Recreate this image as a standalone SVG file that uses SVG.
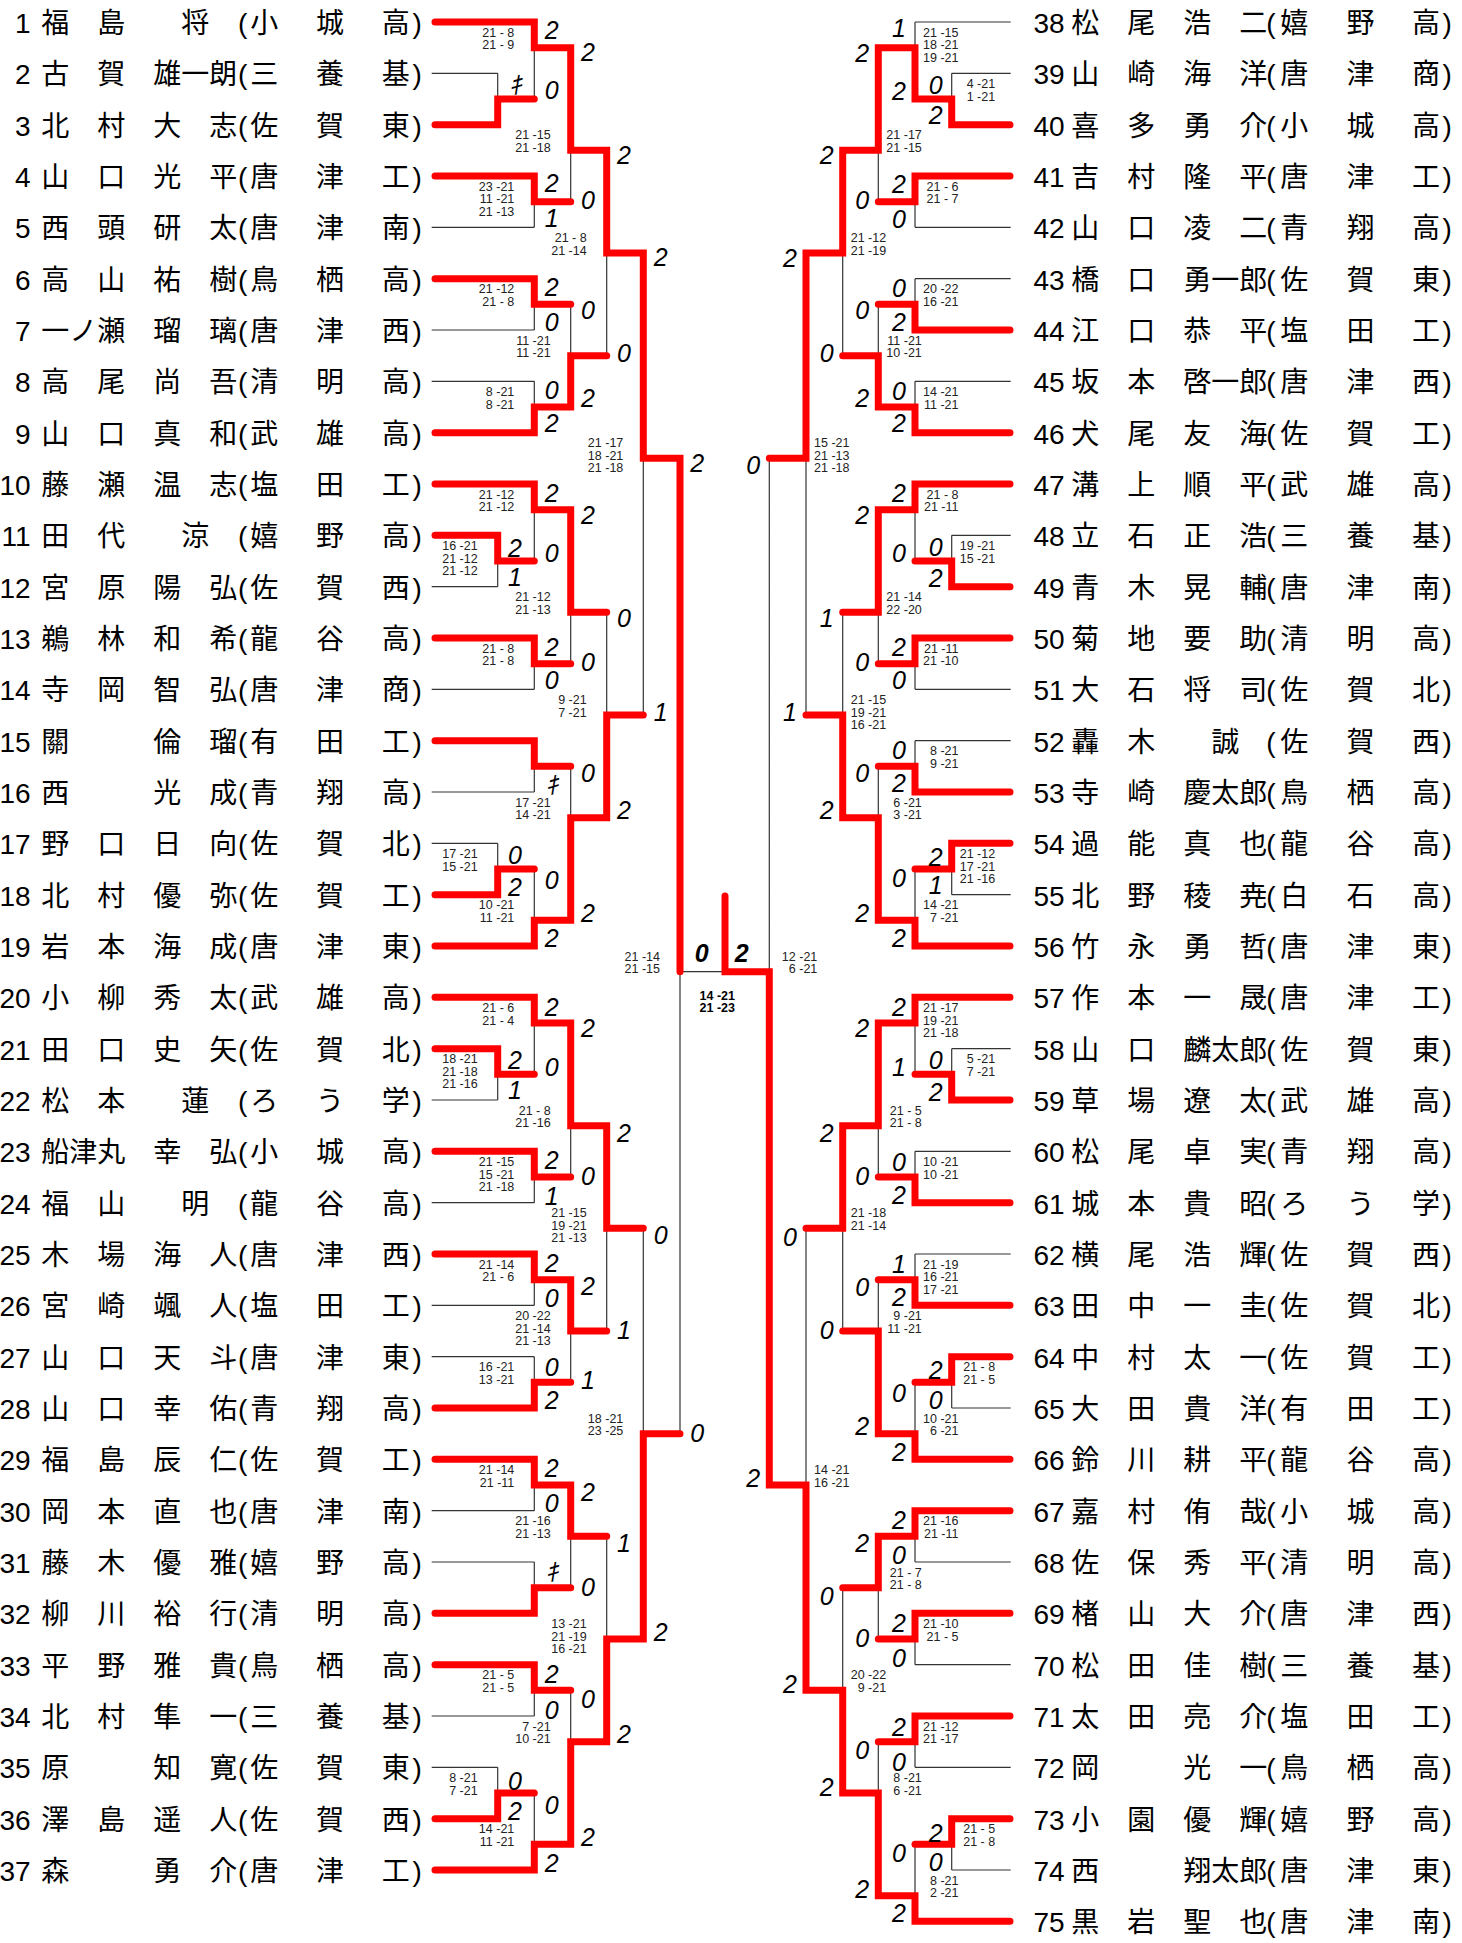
<svg xmlns="http://www.w3.org/2000/svg" width="1462" height="1943" viewBox="0 0 1462 1943">
<style>
.nm{font-family:"Noto Sans CJK JP","Noto Sans CJK SC",sans-serif;font-size:28px;fill:#000}
.no{font-family:"Liberation Sans",Arial,sans-serif;font-size:28px;text-anchor:end;fill:#000}
.pa{font-family:"Liberation Sans",Arial,sans-serif}
.s{font-family:"Liberation Sans","Noto Sans CJK JP",sans-serif;font-style:italic;font-size:25px;text-anchor:middle;fill:#000}
.f{font-weight:bold}
.g{font-family:"Liberation Sans",Arial,sans-serif;font-size:12.5px;text-anchor:end;fill:#222}
.gb{font-weight:bold;fill:#000}
.th{fill:none;stroke:#333;stroke-width:1.2}
.rd{fill:none;stroke:#ff0000;stroke-width:7;stroke-linecap:round;stroke-linejoin:miter}
</style>
<rect width="1462" height="1943" fill="#fff"/>
<g id="connectors">
<path class="th" d="M497.7 73.3V124.7M534.3 22V99M534.3 176V227.3M570.7 47.7V201.7M534.3 278.7V330M534.3 381.3V432.7M570.7 304.3V407M606.7 150.3V355.7M497.7 535.3V586.7M534.3 484V561M534.3 638V689.3M570.7 509.7V663.7M534.3 740.7V792M497.7 843.3V894.7M534.3 869V946M570.7 766.3V920.3M606.7 612.3V817.7M643.3 253V715M497.7 1048.7V1100M534.3 997.3V1074.3M534.3 1151.3V1202.7M570.7 1023V1177M534.3 1254V1305.3M534.3 1356.7V1408M570.7 1279.7V1382.3M606.7 1125.7V1331M534.3 1459.3V1510.7M534.3 1562V1613.3M570.7 1485V1587.7M534.3 1664.7V1716M497.7 1767.3V1818.7M534.3 1793V1870M570.7 1690.3V1844.3M606.7 1536.3V1639M643.3 1228.3V1639M680 458.3V1433.7"/>
<path class="th" d="M431.7 73.3H497.7M431.7 227.3H534.3M431.7 330H534.3M431.7 381.3H534.3M431.7 586.7H497.7M431.7 689.3H534.3M431.7 792H534.3M431.7 843.3H497.7M431.7 1100H497.7M431.7 1202.7H534.3M431.7 1305.3H534.3M431.7 1356.7H534.3M431.7 1510.7H534.3M431.7 1562H534.3M431.7 1716H534.3M431.7 1767.3H497.7M680 971.7H725"/>
<path class="th" d="M951.7 73.3V124.7M915 22V99M915 176V227.3M878.3 47.7V201.7M915 278.7V330M915 381.3V432.7M878.3 304.3V407M842.7 150.3V355.7M951.7 535.3V586.7M915 484V561M915 638V689.3M878.3 509.7V663.7M915 740.7V792M951.7 843.3V894.7M915 869V946M878.3 766.3V920.3M842.7 612.3V817.7M806 253V715M951.7 1048.7V1100M915 997.3V1074.3M915 1151.3V1202.7M878.3 1023V1177M915 1254V1305.3M951.7 1356.7V1408M915 1382.3V1459.3M878.3 1279.7V1433.7M842.7 1125.7V1331M915 1510.7V1562M915 1613.3V1664.7M878.3 1536.3V1639M915 1716V1767.3M951.7 1818.7V1870M915 1844.3V1921.3M878.3 1741.7V1895.7M842.7 1587.7V1793M806 1228.3V1690.3M769.3 458.3V1485"/>
<path class="th" d="M1010.7 22H915M1010.7 73.3H951.7M1010.7 227.3H915M1010.7 278.7H915M1010.7 381.3H915M1010.7 535.3H951.7M1010.7 689.3H915M1010.7 740.7H915M1010.7 894.7H951.7M1010.7 1048.7H951.7M1010.7 1151.3H915M1010.7 1254H915M1010.7 1408H951.7M1010.7 1562H915M1010.7 1664.7H915M1010.7 1767.3H915M1010.7 1870H951.7"/>
<path class="rd" d="M435 22H534.3V47.7H570.7V150.3H606.7V253H643.3V458.3H680V971.7M435 124.7H497.7V99H534.3M435 176H534.3V201.7H570.7M435 278.7H534.3V304.3H570.7M435 432.7H534.3V407H570.7V355.7H606.7M435 484H534.3V509.7H570.7V612.3H606.7M435 535.3H497.7V561H534.3M435 638H534.3V663.7H570.7M435 740.7H534.3V766.3H570.7M435 894.7H497.7V869H534.3M435 946H534.3V920.3H570.7V817.7H606.7V715H643.3M435 997.3H534.3V1023H570.7V1125.7H606.7V1228.3H643.3M435 1048.7H497.7V1074.3H534.3M435 1151.3H534.3V1177H570.7M435 1254H534.3V1279.7H570.7V1331H606.7M435 1408H534.3V1382.3H570.7M435 1459.3H534.3V1485H570.7V1536.3H606.7M435 1613.3H534.3V1587.7H570.7M435 1664.7H534.3V1690.3H570.7M435 1818.7H497.7V1793H534.3M435 1870H534.3V1844.3H570.7V1741.7H606.7V1639H643.3V1433.7H680"/>
<path class="rd" d="M1010 124.7H951.7V99H915V47.7H878.3V150.3H842.7V253H806V458.3H769.3M1010 176H915V201.7H878.3M1010 330H915V304.3H878.3M1010 432.7H915V407H878.3V355.7H842.7M1010 586.7H951.7V561H915M1010 484H915V509.7H878.3V612.3H842.7M1010 638H915V663.7H878.3M1010 792H915V766.3H878.3M1010 843.3H951.7V869H915M1010 946H915V920.3H878.3V817.7H842.7V715H806M1010 1100H951.7V1074.3H915M1010 997.3H915V1023H878.3V1125.7H842.7V1228.3H806M1010 1202.7H915V1177H878.3M1010 1305.3H915V1279.7H878.3M1010 1356.7H951.7V1382.3H915M1010 1459.3H915V1433.7H878.3V1331H842.7M1010 1510.7H915V1536.3H878.3V1587.7H842.7M1010 1613.3H915V1639H878.3M1010 1716H915V1741.7H878.3M1010 1818.7H951.7V1844.3H915M1010 1921.3H915V1895.7H878.3V1793H842.7V1690.3H806V1485H769.3V971.7H725V896"/>
</g>
<g id="scores">
<text class="s" x="515" y="94">ｷ</text>
<text class="s" x="551.6" y="39">2</text><text class="s" x="551.6" y="99">0</text>
<text class="s" x="551.6" y="192">2</text><text class="s" x="551.6" y="227">1</text>
<text class="s" x="588" y="61">2</text><text class="s" x="588" y="209">0</text>
<text class="s" x="551.6" y="295.7">2</text><text class="s" x="551.6" y="330.7">0</text>
<text class="s" x="551.6" y="399">0</text><text class="s" x="551.6" y="432">2</text>
<text class="s" x="588" y="319">0</text><text class="s" x="588" y="407.3">2</text>
<text class="s" x="624" y="164">2</text><text class="s" x="624" y="362">0</text>
<text class="s" x="515" y="557">2</text><text class="s" x="515" y="585.7">1</text>
<text class="s" x="551.6" y="501.7">2</text><text class="s" x="551.6" y="562">0</text>
<text class="s" x="551.6" y="655.7">2</text><text class="s" x="551.6" y="689">0</text>
<text class="s" x="588" y="524">2</text><text class="s" x="588" y="670.7">0</text>
<text class="s" x="551.6" y="794">ｷ</text>
<text class="s" x="515" y="864">0</text><text class="s" x="515" y="895.7">2</text>
<text class="s" x="551.6" y="889">0</text><text class="s" x="551.6" y="947.3">2</text>
<text class="s" x="588" y="782.3">0</text><text class="s" x="588" y="922.3">2</text>
<text class="s" x="624" y="627.3">0</text><text class="s" x="624" y="819">2</text>
<text class="s" x="660.6" y="265.5">2</text><text class="s" x="660.6" y="720.7">1</text>
<text class="s" x="515" y="1069">2</text><text class="s" x="515" y="1099">1</text>
<text class="s" x="551.6" y="1015.7">2</text><text class="s" x="551.6" y="1075.7">0</text>
<text class="s" x="551.6" y="1169">2</text><text class="s" x="551.6" y="1205">1</text>
<text class="s" x="588" y="1037.3">2</text><text class="s" x="588" y="1185">0</text>
<text class="s" x="551.6" y="1271.7">2</text><text class="s" x="551.6" y="1307.3">0</text>
<text class="s" x="551.6" y="1375.7">0</text><text class="s" x="551.6" y="1409">2</text>
<text class="s" x="588" y="1295">2</text><text class="s" x="588" y="1389">1</text>
<text class="s" x="624" y="1141.7">2</text><text class="s" x="624" y="1339">1</text>
<text class="s" x="551.6" y="1477.3">2</text><text class="s" x="551.6" y="1512.3">0</text>
<text class="s" x="551.6" y="1580.7">ｷ</text>
<text class="s" x="588" y="1500.7">2</text><text class="s" x="588" y="1595.7">0</text>
<text class="s" x="551.6" y="1683">2</text><text class="s" x="551.6" y="1719">0</text>
<text class="s" x="515" y="1789.7">0</text><text class="s" x="515" y="1819.7">2</text>
<text class="s" x="551.6" y="1814">0</text><text class="s" x="551.6" y="1872.3">2</text>
<text class="s" x="588" y="1708.3">0</text><text class="s" x="588" y="1845.7">2</text>
<text class="s" x="624" y="1552">1</text><text class="s" x="624" y="1743">2</text>
<text class="s" x="660.6" y="1244">0</text><text class="s" x="660.6" y="1640.7">2</text>
<text class="s" x="697.3" y="472">2</text><text class="s" x="697.3" y="1442.3">0</text>
<text class="s" x="935.7" y="94">0</text><text class="s" x="935.7" y="124">2</text>
<text class="s" x="899" y="36.5">1</text><text class="s" x="899" y="99.8">2</text>
<text class="s" x="899" y="193">2</text><text class="s" x="899" y="228">0</text>
<text class="s" x="862.3" y="62">2</text><text class="s" x="862.3" y="209">0</text>
<text class="s" x="899" y="297">0</text><text class="s" x="899" y="331">2</text>
<text class="s" x="899" y="399.7">0</text><text class="s" x="899" y="432.3">2</text>
<text class="s" x="862.3" y="319">0</text><text class="s" x="862.3" y="407.3">2</text>
<text class="s" x="826.7" y="164">2</text><text class="s" x="826.7" y="362.3">0</text>
<text class="s" x="935.7" y="556.3">0</text><text class="s" x="935.7" y="587.3">2</text>
<text class="s" x="899" y="501.7">2</text><text class="s" x="899" y="562.3">0</text>
<text class="s" x="899" y="655.7">2</text><text class="s" x="899" y="689">0</text>
<text class="s" x="862.3" y="524">2</text><text class="s" x="862.3" y="670.7">0</text>
<text class="s" x="899" y="759">0</text><text class="s" x="899" y="792.3">2</text>
<text class="s" x="935.7" y="865.7">2</text><text class="s" x="935.7" y="894">1</text>
<text class="s" x="899" y="887.3">0</text><text class="s" x="899" y="947.3">2</text>
<text class="s" x="862.3" y="782.3">0</text><text class="s" x="862.3" y="922.3">2</text>
<text class="s" x="826.7" y="627.3">1</text><text class="s" x="826.7" y="819">2</text>
<text class="s" x="790" y="266.5">2</text><text class="s" x="790" y="720.7">1</text>
<text class="s" x="935.7" y="1069">0</text><text class="s" x="935.7" y="1100.7">2</text>
<text class="s" x="899" y="1015.7">2</text><text class="s" x="899" y="1075.7">1</text>
<text class="s" x="899" y="1170.7">0</text><text class="s" x="899" y="1204">2</text>
<text class="s" x="862.3" y="1037.3">2</text><text class="s" x="862.3" y="1185">0</text>
<text class="s" x="899" y="1273">1</text><text class="s" x="899" y="1305.7">2</text>
<text class="s" x="935.7" y="1379">2</text><text class="s" x="935.7" y="1409">0</text>
<text class="s" x="899" y="1402.3">0</text><text class="s" x="899" y="1460.7">2</text>
<text class="s" x="862.3" y="1295.7">0</text><text class="s" x="862.3" y="1435">2</text>
<text class="s" x="826.7" y="1141.7">2</text><text class="s" x="826.7" y="1339">0</text>
<text class="s" x="899" y="1529">2</text><text class="s" x="899" y="1564">0</text>
<text class="s" x="899" y="1632.3">2</text><text class="s" x="899" y="1667.3">0</text>
<text class="s" x="862.3" y="1552.3">2</text><text class="s" x="862.3" y="1647.3">0</text>
<text class="s" x="899" y="1735.7">2</text><text class="s" x="899" y="1770.7">0</text>
<text class="s" x="935.7" y="1842.3">2</text><text class="s" x="935.7" y="1870.7">0</text>
<text class="s" x="899" y="1862.3">0</text><text class="s" x="899" y="1922.3">2</text>
<text class="s" x="862.3" y="1759">0</text><text class="s" x="862.3" y="1898">2</text>
<text class="s" x="826.7" y="1605">0</text><text class="s" x="826.7" y="1795.7">2</text>
<text class="s" x="790" y="1245.7">0</text><text class="s" x="790" y="1693">2</text>
<text class="s" x="753.3" y="474">0</text><text class="s" x="753.3" y="1487.3">2</text>
<text class="s f" x="701.7" y="962.3">0</text><text class="s f" x="741.7" y="962.3">2</text>
</g>
<g id="games">
<text class="g" x="514.3" y="36.7">21 - 8<tspan x="514.3" dy="12.5">21 - 9</tspan></text>
<text class="g" x="514.3" y="190.7">23 -21<tspan x="514.3" dy="12.5">11 -21</tspan><tspan x="514.3" dy="12.5">21 -13</tspan></text>
<text class="g" x="550.7" y="139.3">21 -15<tspan x="550.7" dy="12.5">21 -18</tspan></text>
<text class="g" x="514.3" y="293.3">21 -12<tspan x="514.3" dy="12.5">21 - 8</tspan></text>
<text class="g" x="514.3" y="396">8 -21<tspan x="514.3" dy="12.5">8 -21</tspan></text>
<text class="g" x="550.7" y="344.7">11 -21<tspan x="550.7" dy="12.5">11 -21</tspan></text>
<text class="g" x="586.7" y="242">21 - 8<tspan x="586.7" dy="12.5">21 -14</tspan></text>
<text class="g" x="477.7" y="550">16 -21<tspan x="477.7" dy="12.5">21 -12</tspan><tspan x="477.7" dy="12.5">21 -12</tspan></text>
<text class="g" x="514.3" y="498.7">21 -12<tspan x="514.3" dy="12.5">21 -12</tspan></text>
<text class="g" x="514.3" y="652.7">21 - 8<tspan x="514.3" dy="12.5">21 - 8</tspan></text>
<text class="g" x="550.7" y="601.3">21 -12<tspan x="550.7" dy="12.5">21 -13</tspan></text>
<text class="g" x="477.7" y="858">17 -21<tspan x="477.7" dy="12.5">15 -21</tspan></text>
<text class="g" x="514.3" y="909.3">10 -21<tspan x="514.3" dy="12.5">11 -21</tspan></text>
<text class="g" x="550.7" y="806.7">17 -21<tspan x="550.7" dy="12.5">14 -21</tspan></text>
<text class="g" x="586.7" y="704">9 -21<tspan x="586.7" dy="12.5">7 -21</tspan></text>
<text class="g" x="623.3" y="447.3">21 -17<tspan x="623.3" dy="12.5">18 -21</tspan><tspan x="623.3" dy="12.5">21 -18</tspan></text>
<text class="g" x="477.7" y="1063.3">18 -21<tspan x="477.7" dy="12.5">21 -18</tspan><tspan x="477.7" dy="12.5">21 -16</tspan></text>
<text class="g" x="514.3" y="1012">21 - 6<tspan x="514.3" dy="12.5">21 - 4</tspan></text>
<text class="g" x="514.3" y="1166">21 -15<tspan x="514.3" dy="12.5">15 -21</tspan><tspan x="514.3" dy="12.5">21 -18</tspan></text>
<text class="g" x="550.7" y="1114.7">21 - 8<tspan x="550.7" dy="12.5">21 -16</tspan></text>
<text class="g" x="514.3" y="1268.7">21 -14<tspan x="514.3" dy="12.5">21 - 6</tspan></text>
<text class="g" x="514.3" y="1371.3">16 -21<tspan x="514.3" dy="12.5">13 -21</tspan></text>
<text class="g" x="550.7" y="1320">20 -22<tspan x="550.7" dy="12.5">21 -14</tspan><tspan x="550.7" dy="12.5">21 -13</tspan></text>
<text class="g" x="586.7" y="1217.3">21 -15<tspan x="586.7" dy="12.5">19 -21</tspan><tspan x="586.7" dy="12.5">21 -13</tspan></text>
<text class="g" x="514.3" y="1474">21 -14<tspan x="514.3" dy="12.5">21 -11</tspan></text>
<text class="g" x="550.7" y="1525.3">21 -16<tspan x="550.7" dy="12.5">21 -13</tspan></text>
<text class="g" x="514.3" y="1679.3">21 - 5<tspan x="514.3" dy="12.5">21 - 5</tspan></text>
<text class="g" x="477.7" y="1782">8 -21<tspan x="477.7" dy="12.5">7 -21</tspan></text>
<text class="g" x="514.3" y="1833.3">14 -21<tspan x="514.3" dy="12.5">11 -21</tspan></text>
<text class="g" x="550.7" y="1730.7">7 -21<tspan x="550.7" dy="12.5">10 -21</tspan></text>
<text class="g" x="586.7" y="1628">13 -21<tspan x="586.7" dy="12.5">21 -19</tspan><tspan x="586.7" dy="12.5">16 -21</tspan></text>
<text class="g" x="623.3" y="1422.7">18 -21<tspan x="623.3" dy="12.5">23 -25</tspan></text>
<text class="g" x="660" y="960.7">21 -14<tspan x="660" dy="12.5">21 -15</tspan></text>
<text class="g" x="995.2" y="88">4 -21<tspan x="995.2" dy="12.5">1 -21</tspan></text>
<text class="g" x="958.5" y="36.7">21 -15<tspan x="958.5" dy="12.5">18 -21</tspan><tspan x="958.5" dy="12.5">19 -21</tspan></text>
<text class="g" x="958.5" y="190.7">21 - 6<tspan x="958.5" dy="12.5">21 - 7</tspan></text>
<text class="g" x="921.8" y="139.3">21 -17<tspan x="921.8" dy="12.5">21 -15</tspan></text>
<text class="g" x="958.5" y="293.3">20 -22<tspan x="958.5" dy="12.5">16 -21</tspan></text>
<text class="g" x="958.5" y="396">14 -21<tspan x="958.5" dy="12.5">11 -21</tspan></text>
<text class="g" x="921.8" y="344.7">11 -21<tspan x="921.8" dy="12.5">10 -21</tspan></text>
<text class="g" x="886.2" y="242">21 -12<tspan x="886.2" dy="12.5">21 -19</tspan></text>
<text class="g" x="995.2" y="550">19 -21<tspan x="995.2" dy="12.5">15 -21</tspan></text>
<text class="g" x="958.5" y="498.7">21 - 8<tspan x="958.5" dy="12.5">21 -11</tspan></text>
<text class="g" x="958.5" y="652.7">21 -11<tspan x="958.5" dy="12.5">21 -10</tspan></text>
<text class="g" x="921.8" y="601.3">21 -14<tspan x="921.8" dy="12.5">22 -20</tspan></text>
<text class="g" x="958.5" y="755.3">8 -21<tspan x="958.5" dy="12.5">9 -21</tspan></text>
<text class="g" x="995.2" y="858">21 -12<tspan x="995.2" dy="12.5">17 -21</tspan><tspan x="995.2" dy="12.5">21 -16</tspan></text>
<text class="g" x="958.5" y="909.3">14 -21<tspan x="958.5" dy="12.5">7 -21</tspan></text>
<text class="g" x="921.8" y="806.7">6 -21<tspan x="921.8" dy="12.5">3 -21</tspan></text>
<text class="g" x="886.2" y="704">21 -15<tspan x="886.2" dy="12.5">19 -21</tspan><tspan x="886.2" dy="12.5">16 -21</tspan></text>
<text class="g" x="849.5" y="447.3">15 -21<tspan x="849.5" dy="12.5">21 -13</tspan><tspan x="849.5" dy="12.5">21 -18</tspan></text>
<text class="g" x="995.2" y="1063.3">5 -21<tspan x="995.2" dy="12.5">7 -21</tspan></text>
<text class="g" x="958.5" y="1012">21 -17<tspan x="958.5" dy="12.5">19 -21</tspan><tspan x="958.5" dy="12.5">21 -18</tspan></text>
<text class="g" x="958.5" y="1166">10 -21<tspan x="958.5" dy="12.5">10 -21</tspan></text>
<text class="g" x="921.8" y="1114.7">21 - 5<tspan x="921.8" dy="12.5">21 - 8</tspan></text>
<text class="g" x="958.5" y="1268.7">21 -19<tspan x="958.5" dy="12.5">16 -21</tspan><tspan x="958.5" dy="12.5">17 -21</tspan></text>
<text class="g" x="995.2" y="1371.3">21 - 8<tspan x="995.2" dy="12.5">21 - 5</tspan></text>
<text class="g" x="958.5" y="1422.7">10 -21<tspan x="958.5" dy="12.5">6 -21</tspan></text>
<text class="g" x="921.8" y="1320">9 -21<tspan x="921.8" dy="12.5">11 -21</tspan></text>
<text class="g" x="886.2" y="1217.3">21 -18<tspan x="886.2" dy="12.5">21 -14</tspan></text>
<text class="g" x="958.5" y="1525.3">21 -16<tspan x="958.5" dy="12.5">21 -11</tspan></text>
<text class="g" x="958.5" y="1628">21 -10<tspan x="958.5" dy="12.5">21 - 5</tspan></text>
<text class="g" x="921.8" y="1576.7">21 - 7<tspan x="921.8" dy="12.5">21 - 8</tspan></text>
<text class="g" x="958.5" y="1730.7">21 -12<tspan x="958.5" dy="12.5">21 -17</tspan></text>
<text class="g" x="995.2" y="1833.3">21 - 5<tspan x="995.2" dy="12.5">21 - 8</tspan></text>
<text class="g" x="958.5" y="1884.7">8 -21<tspan x="958.5" dy="12.5">2 -21</tspan></text>
<text class="g" x="921.8" y="1782">8 -21<tspan x="921.8" dy="12.5">6 -21</tspan></text>
<text class="g" x="886.2" y="1679.3">20 -22<tspan x="886.2" dy="12.5">9 -21</tspan></text>
<text class="g" x="849.5" y="1474">14 -21<tspan x="849.5" dy="12.5">16 -21</tspan></text>
<text class="g" x="817.3" y="960.7">12 -21<tspan x="817.3" dy="12.5">6 -21</tspan></text>
<text class="g gb" x="735" y="999.5">14 -21<tspan x="735" dy="12.5">21 -23</tspan></text>
</g>
<g id="players-left">
<g id="p1"><text class="no" x="30.7" y="33">1</text><text class="nm" y="33"><tspan x="41.3">福　島　　将</tspan><tspan class="pa" x="238">(</tspan><tspan x="250.3 316 381.7">小城高</tspan><tspan class="pa" x="412.5">)</tspan></text></g>
<g id="p2"><text class="no" x="30.7" y="84.3">2</text><text class="nm" y="84.3"><tspan x="41.3">古　賀　雄一朗</tspan><tspan class="pa" x="238">(</tspan><tspan x="250.3 316 381.7">三養基</tspan><tspan class="pa" x="412.5">)</tspan></text></g>
<g id="p3"><text class="no" x="30.7" y="135.7">3</text><text class="nm" y="135.7"><tspan x="41.3">北　村　大　志</tspan><tspan class="pa" x="238">(</tspan><tspan x="250.3 316 381.7">佐賀東</tspan><tspan class="pa" x="412.5">)</tspan></text></g>
<g id="p4"><text class="no" x="30.7" y="187">4</text><text class="nm" y="187"><tspan x="41.3">山　口　光　平</tspan><tspan class="pa" x="238">(</tspan><tspan x="250.3 316 381.7">唐津工</tspan><tspan class="pa" x="412.5">)</tspan></text></g>
<g id="p5"><text class="no" x="30.7" y="238.3">5</text><text class="nm" y="238.3"><tspan x="41.3">西　頭　研　太</tspan><tspan class="pa" x="238">(</tspan><tspan x="250.3 316 381.7">唐津南</tspan><tspan class="pa" x="412.5">)</tspan></text></g>
<g id="p6"><text class="no" x="30.7" y="289.7">6</text><text class="nm" y="289.7"><tspan x="41.3">高　山　祐　樹</tspan><tspan class="pa" x="238">(</tspan><tspan x="250.3 316 381.7">鳥栖高</tspan><tspan class="pa" x="412.5">)</tspan></text></g>
<g id="p7"><text class="no" x="30.7" y="341">7</text><text class="nm" y="341"><tspan x="41.3">一ノ瀬　瑠　璃</tspan><tspan class="pa" x="238">(</tspan><tspan x="250.3 316 381.7">唐津西</tspan><tspan class="pa" x="412.5">)</tspan></text></g>
<g id="p8"><text class="no" x="30.7" y="392.3">8</text><text class="nm" y="392.3"><tspan x="41.3">高　尾　尚　吾</tspan><tspan class="pa" x="238">(</tspan><tspan x="250.3 316 381.7">清明高</tspan><tspan class="pa" x="412.5">)</tspan></text></g>
<g id="p9"><text class="no" x="30.7" y="443.7">9</text><text class="nm" y="443.7"><tspan x="41.3">山　口　真　和</tspan><tspan class="pa" x="238">(</tspan><tspan x="250.3 316 381.7">武雄高</tspan><tspan class="pa" x="412.5">)</tspan></text></g>
<g id="p10"><text class="no" x="30.7" y="495">10</text><text class="nm" y="495"><tspan x="41.3">藤　瀬　温　志</tspan><tspan class="pa" x="238">(</tspan><tspan x="250.3 316 381.7">塩田工</tspan><tspan class="pa" x="412.5">)</tspan></text></g>
<g id="p11"><text class="no" x="30.7" y="546.3">11</text><text class="nm" y="546.3"><tspan x="41.3">田　代　　涼</tspan><tspan class="pa" x="238">(</tspan><tspan x="250.3 316 381.7">嬉野高</tspan><tspan class="pa" x="412.5">)</tspan></text></g>
<g id="p12"><text class="no" x="30.7" y="597.7">12</text><text class="nm" y="597.7"><tspan x="41.3">宮　原　陽　弘</tspan><tspan class="pa" x="238">(</tspan><tspan x="250.3 316 381.7">佐賀西</tspan><tspan class="pa" x="412.5">)</tspan></text></g>
<g id="p13"><text class="no" x="30.7" y="649">13</text><text class="nm" y="649"><tspan x="41.3">鵜　林　和　希</tspan><tspan class="pa" x="238">(</tspan><tspan x="250.3 316 381.7">龍谷高</tspan><tspan class="pa" x="412.5">)</tspan></text></g>
<g id="p14"><text class="no" x="30.7" y="700.3">14</text><text class="nm" y="700.3"><tspan x="41.3">寺　岡　智　弘</tspan><tspan class="pa" x="238">(</tspan><tspan x="250.3 316 381.7">唐津商</tspan><tspan class="pa" x="412.5">)</tspan></text></g>
<g id="p15"><text class="no" x="30.7" y="751.7">15</text><text class="nm" y="751.7"><tspan x="41.3">關　　　倫　瑠</tspan><tspan class="pa" x="238">(</tspan><tspan x="250.3 316 381.7">有田工</tspan><tspan class="pa" x="412.5">)</tspan></text></g>
<g id="p16"><text class="no" x="30.7" y="803">16</text><text class="nm" y="803"><tspan x="41.3">西　　　光　成</tspan><tspan class="pa" x="238">(</tspan><tspan x="250.3 316 381.7">青翔高</tspan><tspan class="pa" x="412.5">)</tspan></text></g>
<g id="p17"><text class="no" x="30.7" y="854.3">17</text><text class="nm" y="854.3"><tspan x="41.3">野　口　日　向</tspan><tspan class="pa" x="238">(</tspan><tspan x="250.3 316 381.7">佐賀北</tspan><tspan class="pa" x="412.5">)</tspan></text></g>
<g id="p18"><text class="no" x="30.7" y="905.7">18</text><text class="nm" y="905.7"><tspan x="41.3">北　村　優　弥</tspan><tspan class="pa" x="238">(</tspan><tspan x="250.3 316 381.7">佐賀工</tspan><tspan class="pa" x="412.5">)</tspan></text></g>
<g id="p19"><text class="no" x="30.7" y="957">19</text><text class="nm" y="957"><tspan x="41.3">岩　本　海　成</tspan><tspan class="pa" x="238">(</tspan><tspan x="250.3 316 381.7">唐津東</tspan><tspan class="pa" x="412.5">)</tspan></text></g>
<g id="p20"><text class="no" x="30.7" y="1008.3">20</text><text class="nm" y="1008.3"><tspan x="41.3">小　柳　秀　太</tspan><tspan class="pa" x="238">(</tspan><tspan x="250.3 316 381.7">武雄高</tspan><tspan class="pa" x="412.5">)</tspan></text></g>
<g id="p21"><text class="no" x="30.7" y="1059.7">21</text><text class="nm" y="1059.7"><tspan x="41.3">田　口　史　矢</tspan><tspan class="pa" x="238">(</tspan><tspan x="250.3 316 381.7">佐賀北</tspan><tspan class="pa" x="412.5">)</tspan></text></g>
<g id="p22"><text class="no" x="30.7" y="1111">22</text><text class="nm" y="1111"><tspan x="41.3">松　本　　蓮</tspan><tspan class="pa" x="238">(</tspan><tspan x="250.3 316 381.7">ろう学</tspan><tspan class="pa" x="412.5">)</tspan></text></g>
<g id="p23"><text class="no" x="30.7" y="1162.3">23</text><text class="nm" y="1162.3"><tspan x="41.3">船津丸　幸　弘</tspan><tspan class="pa" x="238">(</tspan><tspan x="250.3 316 381.7">小城高</tspan><tspan class="pa" x="412.5">)</tspan></text></g>
<g id="p24"><text class="no" x="30.7" y="1213.7">24</text><text class="nm" y="1213.7"><tspan x="41.3">福　山　　明</tspan><tspan class="pa" x="238">(</tspan><tspan x="250.3 316 381.7">龍谷高</tspan><tspan class="pa" x="412.5">)</tspan></text></g>
<g id="p25"><text class="no" x="30.7" y="1265">25</text><text class="nm" y="1265"><tspan x="41.3">木　場　海　人</tspan><tspan class="pa" x="238">(</tspan><tspan x="250.3 316 381.7">唐津西</tspan><tspan class="pa" x="412.5">)</tspan></text></g>
<g id="p26"><text class="no" x="30.7" y="1316.3">26</text><text class="nm" y="1316.3"><tspan x="41.3">宮　崎　颯　人</tspan><tspan class="pa" x="238">(</tspan><tspan x="250.3 316 381.7">塩田工</tspan><tspan class="pa" x="412.5">)</tspan></text></g>
<g id="p27"><text class="no" x="30.7" y="1367.7">27</text><text class="nm" y="1367.7"><tspan x="41.3">山　口　天　斗</tspan><tspan class="pa" x="238">(</tspan><tspan x="250.3 316 381.7">唐津東</tspan><tspan class="pa" x="412.5">)</tspan></text></g>
<g id="p28"><text class="no" x="30.7" y="1419">28</text><text class="nm" y="1419"><tspan x="41.3">山　口　幸　佑</tspan><tspan class="pa" x="238">(</tspan><tspan x="250.3 316 381.7">青翔高</tspan><tspan class="pa" x="412.5">)</tspan></text></g>
<g id="p29"><text class="no" x="30.7" y="1470.3">29</text><text class="nm" y="1470.3"><tspan x="41.3">福　島　辰　仁</tspan><tspan class="pa" x="238">(</tspan><tspan x="250.3 316 381.7">佐賀工</tspan><tspan class="pa" x="412.5">)</tspan></text></g>
<g id="p30"><text class="no" x="30.7" y="1521.7">30</text><text class="nm" y="1521.7"><tspan x="41.3">岡　本　直　也</tspan><tspan class="pa" x="238">(</tspan><tspan x="250.3 316 381.7">唐津南</tspan><tspan class="pa" x="412.5">)</tspan></text></g>
<g id="p31"><text class="no" x="30.7" y="1573">31</text><text class="nm" y="1573"><tspan x="41.3">藤　木　優　雅</tspan><tspan class="pa" x="238">(</tspan><tspan x="250.3 316 381.7">嬉野高</tspan><tspan class="pa" x="412.5">)</tspan></text></g>
<g id="p32"><text class="no" x="30.7" y="1624.3">32</text><text class="nm" y="1624.3"><tspan x="41.3">柳　川　裕　行</tspan><tspan class="pa" x="238">(</tspan><tspan x="250.3 316 381.7">清明高</tspan><tspan class="pa" x="412.5">)</tspan></text></g>
<g id="p33"><text class="no" x="30.7" y="1675.7">33</text><text class="nm" y="1675.7"><tspan x="41.3">平　野　雅　貴</tspan><tspan class="pa" x="238">(</tspan><tspan x="250.3 316 381.7">鳥栖高</tspan><tspan class="pa" x="412.5">)</tspan></text></g>
<g id="p34"><text class="no" x="30.7" y="1727">34</text><text class="nm" y="1727"><tspan x="41.3">北　村　隼　一</tspan><tspan class="pa" x="238">(</tspan><tspan x="250.3 316 381.7">三養基</tspan><tspan class="pa" x="412.5">)</tspan></text></g>
<g id="p35"><text class="no" x="30.7" y="1778.3">35</text><text class="nm" y="1778.3"><tspan x="41.3">原　　　知　寛</tspan><tspan class="pa" x="238">(</tspan><tspan x="250.3 316 381.7">佐賀東</tspan><tspan class="pa" x="412.5">)</tspan></text></g>
<g id="p36"><text class="no" x="30.7" y="1829.7">36</text><text class="nm" y="1829.7"><tspan x="41.3">澤　島　遥　人</tspan><tspan class="pa" x="238">(</tspan><tspan x="250.3 316 381.7">佐賀西</tspan><tspan class="pa" x="412.5">)</tspan></text></g>
<g id="p37"><text class="no" x="30.7" y="1881">37</text><text class="nm" y="1881"><tspan x="41.3">森　　　勇　介</tspan><tspan class="pa" x="238">(</tspan><tspan x="250.3 316 381.7">唐津工</tspan><tspan class="pa" x="412.5">)</tspan></text></g>
</g>
<g id="players-right">
<g id="p38"><text class="no" x="1064.7" y="33">38</text><text class="nm" y="33"><tspan x="1071.3">松　尾　浩　二</tspan><tspan class="pa" x="1266.3">(</tspan><tspan x="1280.3 1346.5 1412">嬉野高</tspan><tspan class="pa" x="1442.5">)</tspan></text></g>
<g id="p39"><text class="no" x="1064.7" y="84.3">39</text><text class="nm" y="84.3"><tspan x="1071.3">山　崎　海　洋</tspan><tspan class="pa" x="1266.3">(</tspan><tspan x="1280.3 1346.5 1412">唐津商</tspan><tspan class="pa" x="1442.5">)</tspan></text></g>
<g id="p40"><text class="no" x="1064.7" y="135.7">40</text><text class="nm" y="135.7"><tspan x="1071.3">喜　多　勇　介</tspan><tspan class="pa" x="1266.3">(</tspan><tspan x="1280.3 1346.5 1412">小城高</tspan><tspan class="pa" x="1442.5">)</tspan></text></g>
<g id="p41"><text class="no" x="1064.7" y="187">41</text><text class="nm" y="187"><tspan x="1071.3">吉　村　隆　平</tspan><tspan class="pa" x="1266.3">(</tspan><tspan x="1280.3 1346.5 1412">唐津工</tspan><tspan class="pa" x="1442.5">)</tspan></text></g>
<g id="p42"><text class="no" x="1064.7" y="238.3">42</text><text class="nm" y="238.3"><tspan x="1071.3">山　口　凌　二</tspan><tspan class="pa" x="1266.3">(</tspan><tspan x="1280.3 1346.5 1412">青翔高</tspan><tspan class="pa" x="1442.5">)</tspan></text></g>
<g id="p43"><text class="no" x="1064.7" y="289.7">43</text><text class="nm" y="289.7"><tspan x="1071.3">橋　口　勇一郎</tspan><tspan class="pa" x="1266.3">(</tspan><tspan x="1280.3 1346.5 1412">佐賀東</tspan><tspan class="pa" x="1442.5">)</tspan></text></g>
<g id="p44"><text class="no" x="1064.7" y="341">44</text><text class="nm" y="341"><tspan x="1071.3">江　口　恭　平</tspan><tspan class="pa" x="1266.3">(</tspan><tspan x="1280.3 1346.5 1412">塩田工</tspan><tspan class="pa" x="1442.5">)</tspan></text></g>
<g id="p45"><text class="no" x="1064.7" y="392.3">45</text><text class="nm" y="392.3"><tspan x="1071.3">坂　本　啓一郎</tspan><tspan class="pa" x="1266.3">(</tspan><tspan x="1280.3 1346.5 1412">唐津西</tspan><tspan class="pa" x="1442.5">)</tspan></text></g>
<g id="p46"><text class="no" x="1064.7" y="443.7">46</text><text class="nm" y="443.7"><tspan x="1071.3">犬　尾　友　海</tspan><tspan class="pa" x="1266.3">(</tspan><tspan x="1280.3 1346.5 1412">佐賀工</tspan><tspan class="pa" x="1442.5">)</tspan></text></g>
<g id="p47"><text class="no" x="1064.7" y="495">47</text><text class="nm" y="495"><tspan x="1071.3">溝　上　順　平</tspan><tspan class="pa" x="1266.3">(</tspan><tspan x="1280.3 1346.5 1412">武雄高</tspan><tspan class="pa" x="1442.5">)</tspan></text></g>
<g id="p48"><text class="no" x="1064.7" y="546.3">48</text><text class="nm" y="546.3"><tspan x="1071.3">立　石　正　浩</tspan><tspan class="pa" x="1266.3">(</tspan><tspan x="1280.3 1346.5 1412">三養基</tspan><tspan class="pa" x="1442.5">)</tspan></text></g>
<g id="p49"><text class="no" x="1064.7" y="597.7">49</text><text class="nm" y="597.7"><tspan x="1071.3">青　木　晃　輔</tspan><tspan class="pa" x="1266.3">(</tspan><tspan x="1280.3 1346.5 1412">唐津南</tspan><tspan class="pa" x="1442.5">)</tspan></text></g>
<g id="p50"><text class="no" x="1064.7" y="649">50</text><text class="nm" y="649"><tspan x="1071.3">菊　地　要　助</tspan><tspan class="pa" x="1266.3">(</tspan><tspan x="1280.3 1346.5 1412">清明高</tspan><tspan class="pa" x="1442.5">)</tspan></text></g>
<g id="p51"><text class="no" x="1064.7" y="700.3">51</text><text class="nm" y="700.3"><tspan x="1071.3">大　石　将　司</tspan><tspan class="pa" x="1266.3">(</tspan><tspan x="1280.3 1346.5 1412">佐賀北</tspan><tspan class="pa" x="1442.5">)</tspan></text></g>
<g id="p52"><text class="no" x="1064.7" y="751.7">52</text><text class="nm" y="751.7"><tspan x="1071.3">轟　木　　誠</tspan><tspan class="pa" x="1266.3">(</tspan><tspan x="1280.3 1346.5 1412">佐賀西</tspan><tspan class="pa" x="1442.5">)</tspan></text></g>
<g id="p53"><text class="no" x="1064.7" y="803">53</text><text class="nm" y="803"><tspan x="1071.3">寺　崎　慶太郎</tspan><tspan class="pa" x="1266.3">(</tspan><tspan x="1280.3 1346.5 1412">鳥栖高</tspan><tspan class="pa" x="1442.5">)</tspan></text></g>
<g id="p54"><text class="no" x="1064.7" y="854.3">54</text><text class="nm" y="854.3"><tspan x="1071.3">過　能　真　也</tspan><tspan class="pa" x="1266.3">(</tspan><tspan x="1280.3 1346.5 1412">龍谷高</tspan><tspan class="pa" x="1442.5">)</tspan></text></g>
<g id="p55"><text class="no" x="1064.7" y="905.7">55</text><text class="nm" y="905.7"><tspan x="1071.3">北　野　稜　尭</tspan><tspan class="pa" x="1266.3">(</tspan><tspan x="1280.3 1346.5 1412">白石高</tspan><tspan class="pa" x="1442.5">)</tspan></text></g>
<g id="p56"><text class="no" x="1064.7" y="957">56</text><text class="nm" y="957"><tspan x="1071.3">竹　永　勇　哲</tspan><tspan class="pa" x="1266.3">(</tspan><tspan x="1280.3 1346.5 1412">唐津東</tspan><tspan class="pa" x="1442.5">)</tspan></text></g>
<g id="p57"><text class="no" x="1064.7" y="1008.3">57</text><text class="nm" y="1008.3"><tspan x="1071.3">作　本　一　晟</tspan><tspan class="pa" x="1266.3">(</tspan><tspan x="1280.3 1346.5 1412">唐津工</tspan><tspan class="pa" x="1442.5">)</tspan></text></g>
<g id="p58"><text class="no" x="1064.7" y="1059.7">58</text><text class="nm" y="1059.7"><tspan x="1071.3">山　口　麟太郎</tspan><tspan class="pa" x="1266.3">(</tspan><tspan x="1280.3 1346.5 1412">佐賀東</tspan><tspan class="pa" x="1442.5">)</tspan></text></g>
<g id="p59"><text class="no" x="1064.7" y="1111">59</text><text class="nm" y="1111"><tspan x="1071.3">草　場　遼　太</tspan><tspan class="pa" x="1266.3">(</tspan><tspan x="1280.3 1346.5 1412">武雄高</tspan><tspan class="pa" x="1442.5">)</tspan></text></g>
<g id="p60"><text class="no" x="1064.7" y="1162.3">60</text><text class="nm" y="1162.3"><tspan x="1071.3">松　尾　卓　実</tspan><tspan class="pa" x="1266.3">(</tspan><tspan x="1280.3 1346.5 1412">青翔高</tspan><tspan class="pa" x="1442.5">)</tspan></text></g>
<g id="p61"><text class="no" x="1064.7" y="1213.7">61</text><text class="nm" y="1213.7"><tspan x="1071.3">城　本　貴　昭</tspan><tspan class="pa" x="1266.3">(</tspan><tspan x="1280.3 1346.5 1412">ろう学</tspan><tspan class="pa" x="1442.5">)</tspan></text></g>
<g id="p62"><text class="no" x="1064.7" y="1265">62</text><text class="nm" y="1265"><tspan x="1071.3">横　尾　浩　輝</tspan><tspan class="pa" x="1266.3">(</tspan><tspan x="1280.3 1346.5 1412">佐賀西</tspan><tspan class="pa" x="1442.5">)</tspan></text></g>
<g id="p63"><text class="no" x="1064.7" y="1316.3">63</text><text class="nm" y="1316.3"><tspan x="1071.3">田　中　一　圭</tspan><tspan class="pa" x="1266.3">(</tspan><tspan x="1280.3 1346.5 1412">佐賀北</tspan><tspan class="pa" x="1442.5">)</tspan></text></g>
<g id="p64"><text class="no" x="1064.7" y="1367.7">64</text><text class="nm" y="1367.7"><tspan x="1071.3">中　村　太　一</tspan><tspan class="pa" x="1266.3">(</tspan><tspan x="1280.3 1346.5 1412">佐賀工</tspan><tspan class="pa" x="1442.5">)</tspan></text></g>
<g id="p65"><text class="no" x="1064.7" y="1419">65</text><text class="nm" y="1419"><tspan x="1071.3">大　田　貴　洋</tspan><tspan class="pa" x="1266.3">(</tspan><tspan x="1280.3 1346.5 1412">有田工</tspan><tspan class="pa" x="1442.5">)</tspan></text></g>
<g id="p66"><text class="no" x="1064.7" y="1470.3">66</text><text class="nm" y="1470.3"><tspan x="1071.3">鈴　川　耕　平</tspan><tspan class="pa" x="1266.3">(</tspan><tspan x="1280.3 1346.5 1412">龍谷高</tspan><tspan class="pa" x="1442.5">)</tspan></text></g>
<g id="p67"><text class="no" x="1064.7" y="1521.7">67</text><text class="nm" y="1521.7"><tspan x="1071.3">嘉　村　侑　哉</tspan><tspan class="pa" x="1266.3">(</tspan><tspan x="1280.3 1346.5 1412">小城高</tspan><tspan class="pa" x="1442.5">)</tspan></text></g>
<g id="p68"><text class="no" x="1064.7" y="1573">68</text><text class="nm" y="1573"><tspan x="1071.3">佐　保　秀　平</tspan><tspan class="pa" x="1266.3">(</tspan><tspan x="1280.3 1346.5 1412">清明高</tspan><tspan class="pa" x="1442.5">)</tspan></text></g>
<g id="p69"><text class="no" x="1064.7" y="1624.3">69</text><text class="nm" y="1624.3"><tspan x="1071.3">楮　山　大　介</tspan><tspan class="pa" x="1266.3">(</tspan><tspan x="1280.3 1346.5 1412">唐津西</tspan><tspan class="pa" x="1442.5">)</tspan></text></g>
<g id="p70"><text class="no" x="1064.7" y="1675.7">70</text><text class="nm" y="1675.7"><tspan x="1071.3">松　田　佳　樹</tspan><tspan class="pa" x="1266.3">(</tspan><tspan x="1280.3 1346.5 1412">三養基</tspan><tspan class="pa" x="1442.5">)</tspan></text></g>
<g id="p71"><text class="no" x="1064.7" y="1727">71</text><text class="nm" y="1727"><tspan x="1071.3">太　田　亮　介</tspan><tspan class="pa" x="1266.3">(</tspan><tspan x="1280.3 1346.5 1412">塩田工</tspan><tspan class="pa" x="1442.5">)</tspan></text></g>
<g id="p72"><text class="no" x="1064.7" y="1778.3">72</text><text class="nm" y="1778.3"><tspan x="1071.3">岡　　　光　一</tspan><tspan class="pa" x="1266.3">(</tspan><tspan x="1280.3 1346.5 1412">鳥栖高</tspan><tspan class="pa" x="1442.5">)</tspan></text></g>
<g id="p73"><text class="no" x="1064.7" y="1829.7">73</text><text class="nm" y="1829.7"><tspan x="1071.3">小　園　優　輝</tspan><tspan class="pa" x="1266.3">(</tspan><tspan x="1280.3 1346.5 1412">嬉野高</tspan><tspan class="pa" x="1442.5">)</tspan></text></g>
<g id="p74"><text class="no" x="1064.7" y="1881">74</text><text class="nm" y="1881"><tspan x="1071.3">西　　　翔太郎</tspan><tspan class="pa" x="1266.3">(</tspan><tspan x="1280.3 1346.5 1412">唐津東</tspan><tspan class="pa" x="1442.5">)</tspan></text></g>
<g id="p75"><text class="no" x="1064.7" y="1932.3">75</text><text class="nm" y="1932.3"><tspan x="1071.3">黒　岩　聖　也</tspan><tspan class="pa" x="1266.3">(</tspan><tspan x="1280.3 1346.5 1412">唐津南</tspan><tspan class="pa" x="1442.5">)</tspan></text></g>
</g>
</svg>
